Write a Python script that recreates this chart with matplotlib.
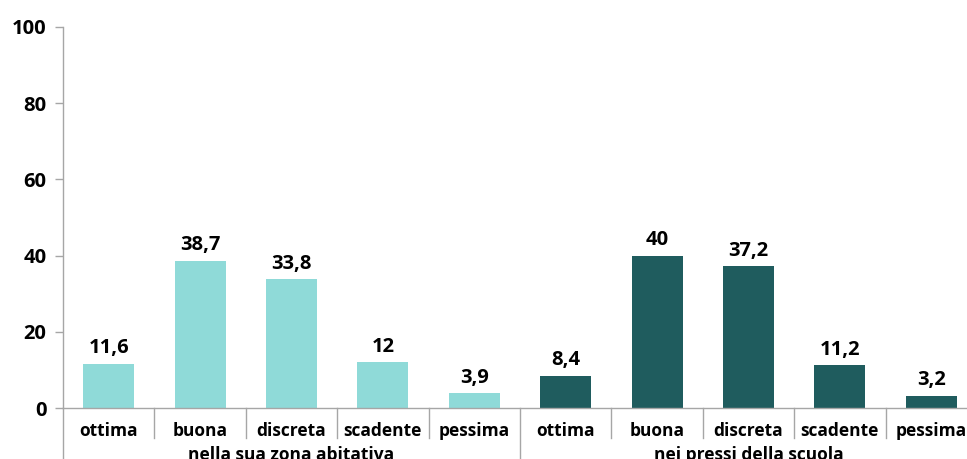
import matplotlib
matplotlib.use("Agg")
import matplotlib.pyplot as plt
import matplotlib.transforms as mtransforms

plt.rcParams['font.family'] = ['Open Sans', 'DejaVu Sans']

categories = ["ottima", "buona", "discreta", "scadente", "pessima"]
groups = ["nella sua zona abitativa", "nei pressi della scuola"]
values_zona = [11.6, 38.7, 33.8, 12, 3.9]
values_scuola = [8.4, 40, 37.2, 11.2, 3.2]
value_labels_zona = ["11,6", "38,7", "33,8", "12", "3,9"]
value_labels_scuola = ["8,4", "40", "37,2", "11,2", "3,2"]
colors = ["#8FDAD8", "#1F5C5E"]
yticks = [0, 20, 40, 60, 80, 100]

FS = 12.5
FS_BIG = 14.5
W, H = 967, 459
fig = plt.figure(figsize=(W / 100, H / 100), dpi=100)
ax = fig.add_axes([63 / W, (H - 408) / H, 914 / W, (408 - 27) / H])

series = [(values_zona, value_labels_zona), (values_scuola, value_labels_scuola)]
n = len(categories)
for g, (vals, labs) in enumerate(series):
    xs = [g * n + i + 0.5 for i in range(n)]
    bars = ax.bar(xs, vals, width=0.56, color=colors[g], zorder=2)
    for b, lab in zip(bars, labs):
        ax.annotate(lab, (b.get_x() + b.get_width() / 2, b.get_height()),
                    xytext=(0, 4), textcoords="offset points", ha="center", va="bottom",
                    fontsize=FS_BIG, fontweight="bold", color="#000000")

ax.set_xlim(0, 2 * n)
ax.set_ylim(0, 100)
ax.set_yticks(yticks)
ax.set_yticklabels([str(v) for v in yticks], fontsize=FS_BIG, fontweight="bold")

for s in ["top", "right"]:
    ax.spines[s].set_visible(False)
for s in ["left", "bottom"]:
    ax.spines[s].set_color("#A6A6A6")
    ax.spines[s].set_linewidth(1.0)
ax.tick_params(axis="y", length=6, width=1.0, color="#A6A6A6", pad=6)

ax.set_xticks([i + 0.5 for i in range(2 * n)])
ax.set_xticklabels(categories * 2, fontsize=FS, fontweight="bold")
ax.tick_params(axis="x", length=0, pad=10)

trans = mtransforms.blended_transform_factory(ax.transData, ax.transAxes)
axes_h = (408 - 27)
short = -30 / axes_h
long_ = -60 / axes_h
for b in range(2 * n + 1):
    y1 = long_ if b % n == 0 else short
    ax.plot([b, b], [0, y1], transform=trans, color="#A6A6A6", lw=1.0, clip_on=False)

for g, name in enumerate(groups):
    ax.annotate(name, (g * n + n / 2, 0), xycoords=trans, xytext=(0, -34),
                textcoords="offset points", ha="center", va="center",
                fontsize=FS, fontweight="bold")

fig.savefig("out.png", dpi=100)
